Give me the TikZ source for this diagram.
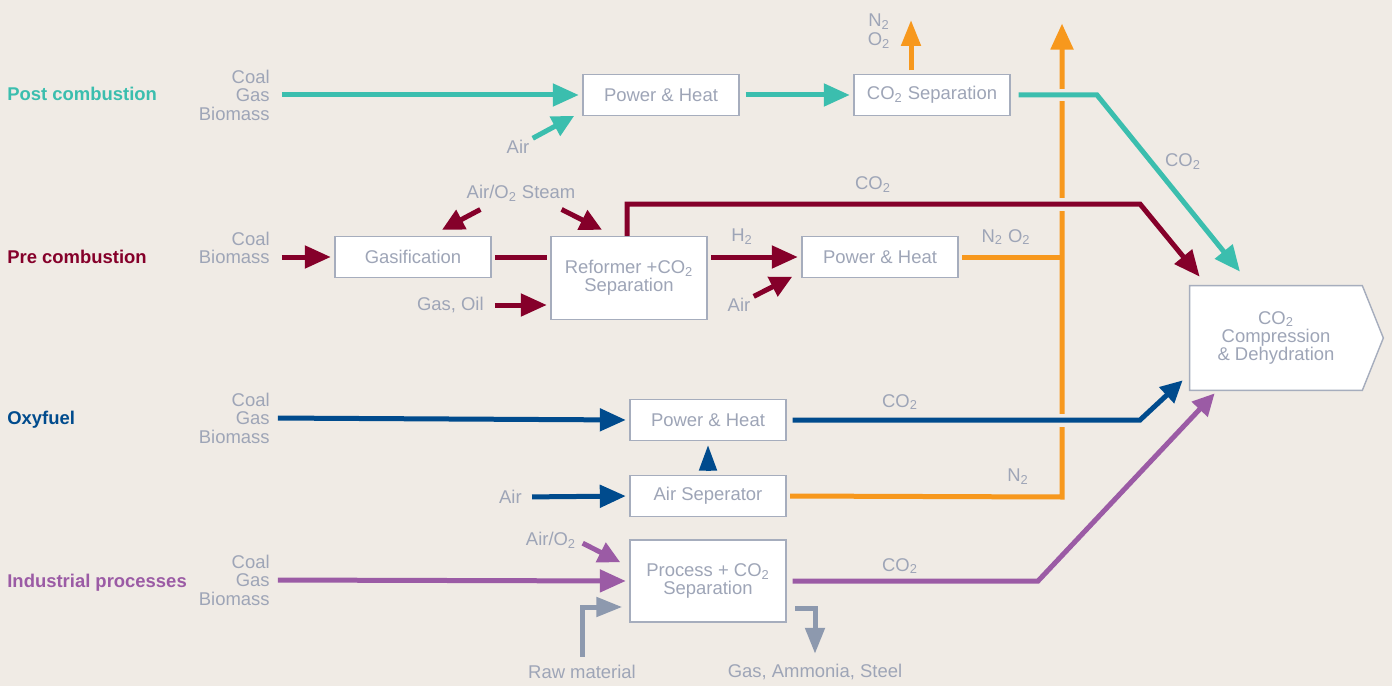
\documentclass[tikz,border=0pt]{standalone}
\usepackage{fontspec}
\setmainfont{Liberation Sans}
\usetikzlibrary{arrows.meta,positioning,calc,backgrounds}
\definecolor{bgc}{HTML}{F0EBE5}
\definecolor{postc}{HTML}{3BBEAE}
\definecolor{prec}{HTML}{85002A}
\definecolor{oxyc}{HTML}{004B8D}
\definecolor{indc}{HTML}{9B5BA5}
\definecolor{orc}{HTML}{F7981D}
\definecolor{txtc}{HTML}{9EA5B7}
\definecolor{edgec}{HTML}{A6ADBD}
\definecolor{rawc}{HTML}{8D99AE}
\newcommand{\chemsub}[1]{\textsubscript{#1}}

\begin{document}
\begin{tikzpicture}[x=0.02cm,y=-0.02cm,>={Triangle[length=0.52cm,width=0.44cm]},
 font=\fontsize{10.5}{10.5}\selectfont,
 proc/.style={draw=edgec,line width=0.8pt,fill=white,minimum width=3.12cm,minimum height=0.82cm,align=center,text=txtc,inner sep=1pt},
 lbl/.style={text=txtc,inner sep=0pt,align=center},
 fuel/.style={lbl,align=right,anchor=east},
 title/.style={font=\fontsize{10.5}{12}\selectfont\bfseries,anchor=west,inner sep=0pt},
 flow/.style={line width=0.1cm,shorten <=2pt,shorten >=2pt},
 arr/.style={flow,->},
 small/.style={>={Triangle[length=0.44cm,width=0.42cm]}},
 slim/.style={>={Triangle[length=0.52cm,width=0.38cm]}},
 gap/.style={draw=bgc,line width=0.26cm}]
\useasboundingbox (0,0) rectangle (1392,686);
% process boxes
\node[proc] (postph) at (661,95) {Power \& Heat};
\node[proc] (cosep) at (932,95) {CO\chemsub{2} Separation};
\node[proc] (gasif) at (413,257) {Gasification};
\node[proc,minimum height=1.66cm] (reform) at (629,278) {Reformer +CO\chemsub{2}\\Separation};
\node[proc] (preph) at (880,257) {Power \& Heat};
\node[proc] (oxyph) at (708,420) {Power \& Heat};
\node[proc] (airsep) at (708,496) {Air Seperator};
\node[proc,minimum height=1.64cm] (procsep) at (708,581) {Process + CO\chemsub{2}\\Separation};
\node[lbl,minimum width=3.44cm,minimum height=2.08cm] (comp) at (1276,338) {CO\chemsub{2}\\Compression\\\& Dehydration};
\begin{scope}[on background layer]
\fill[bgc] (0,0) rectangle (1392,686);
\draw[draw=edgec,line width=0.8pt,fill=white] (comp.north west) -- (comp.north east)
 -- ([xshift=0.42cm]comp.east) -- (comp.south east) -- (comp.south west) -- cycle;
\end{scope}
% row titles and fuels
\node[title,text=postc] (posttitle) at (7,94) {Post combustion};
\node[title,text=prec] (pretitle) at (7,257) {Pre combustion};
\node[title,text=oxyc] (oxytitle) at (7,420) {Oxyfuel};
\node[title,text=indc] (indtitle) at (7,583) {Industrial processes};
\node[fuel] (postfuel) at (270,95) {Coal\\Gas\\Biomass};
\node[fuel] (prefuel) at (270,248) {Coal\\Biomass};
\node[fuel] (oxyfuel) at (270,418) {Coal\\Gas\\Biomass};
\node[fuel] (indfuel) at (270,580) {Coal\\Gas\\Biomass};
% small labels
\node[lbl] (postair) at (518,147) {Air};
\node[lbl] (postno) at (879,31) {N\chemsub{2}\\O\chemsub{2}};
\node[lbl] (postco) at (1183,162) {CO\chemsub{2}};
\node[lbl] (steam) at (521,193) {Air/O\chemsub{2} Steam};
\node[lbl,anchor=east] (gasoil) at (484,305) {Gas, Oil};
\node[lbl] (preair) at (739,305) {Air};
\node[lbl] (h2) at (742,237) {H\chemsub{2}};
\node[lbl] (preno) at (1006,237) {N\chemsub{2} O\chemsub{2}};
\node[lbl] (preco) at (873,185) {CO\chemsub{2}};
\node[lbl,anchor=east] (oxyair) at (522,497) {Air};
\node[lbl] (oxyco) at (900,402) {CO\chemsub{2}};
\node[lbl] (oxyn) at (1018,477) {N\chemsub{2}};
\node[lbl] (indair) at (551,540) {Air/O\chemsub{2}};
\node[lbl] (indco) at (900,566) {CO\chemsub{2}};
\node[lbl] (raw) at (582,672) {Raw material};
\node[lbl] (prod) at (815,672) {Gas, Ammonia, Steel};
\coordinate (postvent) at (911,20);
\coordinate (postbend) at (1097,95);
\coordinate (prebend) at (1140,204);
\coordinate (oxybend) at (1140,420);
\coordinate (indbend) at (1038,581);
\coordinate (orbot) at (1062,497);
\coordinate (ortop) at (1062,20);
% vent lines
\draw[arr,orc] (airsep.east) -- (orbot) -- (ortop);
\draw[flow,orc,shorten >=0pt] (preph.east) -- (preph.east -| orbot);
\draw[arr,orc,slim,shorten >=0pt] (cosep.north -| postvent) -- (postvent);
% post combustion
\draw[arr,postc,shorten <=6.8pt] (postfuel.east) -- (postph.west);
\draw[arr,postc,small] (postair.north east) -- ([xshift=-0.1cm,yshift=0.04cm]postph.south west);
\draw[arr,postc,shorten <=3.4pt] (postph.east) -- (cosep.west);
\draw[gap,shorten <=4.5pt] (cosep.east) -- (postbend);
\draw[arr,postc,shorten <=4.5pt,shorten >=0pt] (cosep.east) -- (postbend) -- ([xshift=-0.72cm,yshift=0.28cm]comp.north);
% pre combustion
\draw[arr,prec,shorten <=6.8pt] (prefuel.east |- gasif.west) -- (gasif.west);
\draw[flow,prec] (gasif.east) -- (gasif.east -| reform.west);
\draw[arr,prec,small,shorten <=0pt,shorten >=0pt] ([xshift=0.28cm,yshift=-0.16cm]steam.south west) -- ([xshift=0.58cm,yshift=0.12cm]gasif.north);
\draw[arr,prec,small,shorten <=0pt,shorten >=0pt] ([xshift=-0.28cm,yshift=-0.16cm]steam.south east) -- ([xshift=-0.54cm,yshift=0.12cm]reform.north);
\draw[arr,prec,shorten <=6.2pt] (gasoil.east) -- (gasoil.east -| reform.west);
\draw[gap,shorten <=0pt,shorten >=0pt] ([xshift=-0.04cm]reform.north) |- (prebend);
\draw[arr,prec,shorten <=0pt,shorten >=0pt] ([xshift=-0.04cm]reform.north) |- (prebend) -- ([xshift=0.2cm,yshift=0.18cm]comp.north west);
\draw[arr,prec] (reform.east |- preph.west) -- (preph.west);
\draw[arr,prec,small] (preair.north east) -- ([xshift=-0.12cm,yshift=0.06cm]preph.south west);
% oxyfuel
\draw[arr,oxyc,shorten <=4.5pt] (oxyfuel.east) -- (oxyph.west);
\draw[arr,oxyc,shorten <=5.7pt] (oxyair.east) -- (airsep.west);
\draw[arr,oxyc,>={Triangle[length=0.52cm,width=0.34cm]}] (airsep.north) -- (oxyph.south);
\draw[gap,shorten <=3.4pt] (oxyph.east) -- (oxybend);
\draw[arr,oxyc,small,shorten <=3.4pt,shorten >=0pt] (oxyph.east) -- (oxybend) -- ([xshift=-0.14cm,yshift=0.2cm]comp.south west);
% industrial processes
\draw[arr,indc,shorten <=4.5pt] (indfuel.east) -- (procsep.west);
\draw[arr,indc,small,shorten <=4pt,shorten >=0pt] (indair.east) -- ([xshift=-0.18cm,yshift=-0.46cm]procsep.north west);
\draw[arr,indc,small,shorten <=3.4pt,shorten >=0pt] (procsep.east) -- (indbend) -- ([xshift=0.5cm,yshift=-0.06cm]comp.south west);
\draw[arr,rawc,slim,shorten <=4.5pt,shorten >=4pt] (raw.north) |- ([yshift=-0.52cm]procsep.west);
\draw[arr,rawc,slim,shorten <=5pt,shorten >=5.7pt] ([yshift=-0.54cm]procsep.east) -| (prod.north);
\end{tikzpicture}
\end{document}
